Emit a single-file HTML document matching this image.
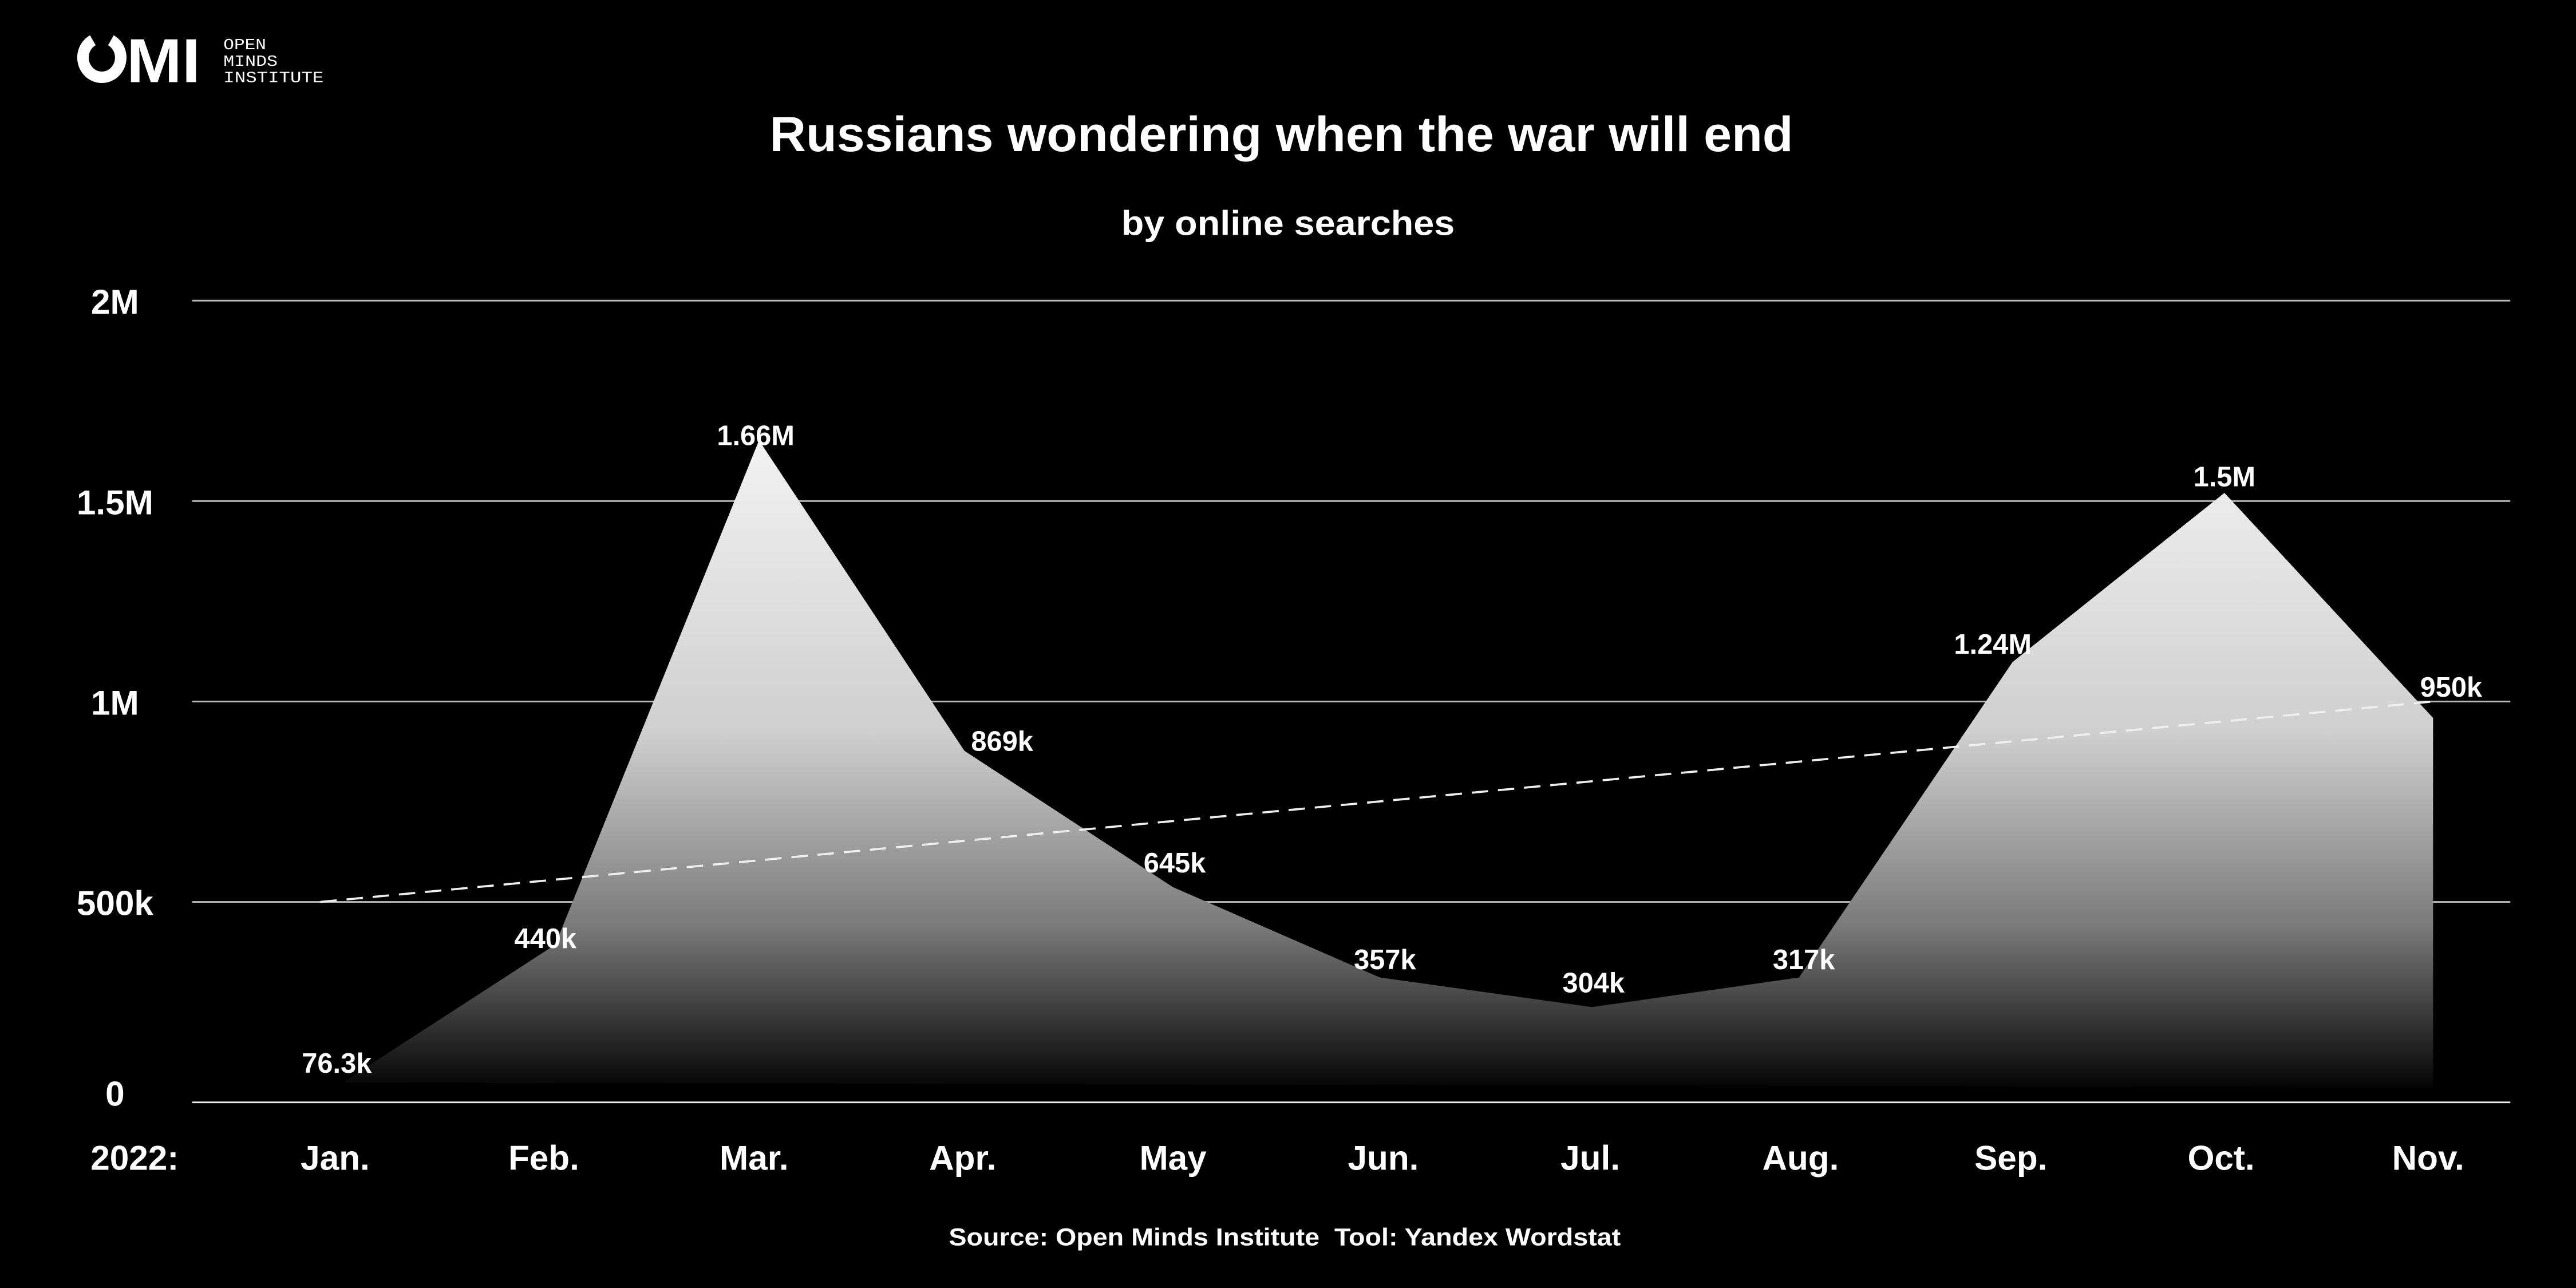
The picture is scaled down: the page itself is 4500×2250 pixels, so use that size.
<!DOCTYPE html>
<html><head><meta charset="utf-8"><style>
html,body{margin:0;padding:0;background:#000;}
svg{display:block;}
text{font-family:"Liberation Sans",sans-serif;fill:#fff;font-weight:bold;}
</style></head><body>
<svg width="4500" height="2250" viewBox="0 0 1568 784" xmlns="http://www.w3.org/2000/svg">
<defs>
<linearGradient id="g" x1="0" y1="268" x2="0" y2="662" gradientUnits="userSpaceOnUse">
<stop offset="0" stop-color="#f2f2f2"/>
<stop offset="0.45" stop-color="#cfcfcf"/>
<stop offset="0.75" stop-color="#7a7a7a"/>
<stop offset="1" stop-color="#050505"/>
</linearGradient>
</defs>
<rect width="1568" height="784" fill="#000"/>
<!-- logo -->
<path d="M67.5,24.5 A11.5,12 0 1 1 56.5,24.5" fill="none" stroke="#fff" stroke-width="7"/>
<text x="77" y="50" font-size="38" textLength="45" lengthAdjust="spacingAndGlyphs">MI</text>
<g style="font-family:'Liberation Mono',monospace;font-weight:normal" font-size="9.5">
<text x="136" y="30" style="font-family:'Liberation Mono',monospace;font-weight:normal" textLength="26" lengthAdjust="spacingAndGlyphs">OPEN</text>
<text x="136" y="40" style="font-family:'Liberation Mono',monospace;font-weight:normal" textLength="33" lengthAdjust="spacingAndGlyphs">MINDS</text>
<text x="136" y="50" style="font-family:'Liberation Mono',monospace;font-weight:normal" textLength="61" lengthAdjust="spacingAndGlyphs">INSTITUTE</text>
</g>
<!-- titles -->
<text x="780" y="92" font-size="30" text-anchor="middle" textLength="623" lengthAdjust="spacingAndGlyphs">Russians wondering when the war will end</text>
<text x="784" y="143" font-size="21" text-anchor="middle" textLength="203" lengthAdjust="spacingAndGlyphs">by online searches</text>
<!-- grid -->
<g stroke="#bbb" stroke-width="1">
<line x1="117" y1="183" x2="1528" y2="183"/>
<line x1="117" y1="305" x2="1528" y2="305"/>
<line x1="117" y1="427" x2="1528" y2="427"/>
<line x1="117" y1="549" x2="1528" y2="549"/>
<line x1="117" y1="671" x2="1528" y2="671" stroke="#eee"/>
</g>
<g font-size="21" text-anchor="middle">
<text x="70" y="191">2M</text>
<text x="70" y="313">1.5M</text>
<text x="70" y="435">1M</text>
<text x="70" y="557">500k</text>
<text x="70" y="673">0</text>
</g>
<!-- area -->
<path d="M210,658 L338,575 L462,268 L587,457 L714,540 L840,595 L969,613 L1095,595 L1225,403 L1354,300 L1481,437 L1481,662 L210,659 Z" fill="url(#g)"/>
<line x1="195" y1="549" x2="1481" y2="427" stroke="#eee" stroke-width="1.3" stroke-dasharray="10,6"/>
<g font-size="17" text-anchor="middle">
<text x="205" y="653">76.3k</text>
<text x="332" y="577">440k</text>
<text x="460" y="271">1.66M</text>
<text x="610" y="457">869k</text>
<text x="715" y="531">645k</text>
<text x="843" y="590">357k</text>
<text x="970" y="604">304k</text>
<text x="1098" y="590">317k</text>
<text x="1213" y="398">1.24M</text>
<text x="1354" y="296">1.5M</text>
<text x="1492" y="424">950k</text>
</g>
<g font-size="21" text-anchor="middle">
<text x="82" y="712">2022:</text>
<text x="204" y="712">Jan.</text>
<text x="331" y="712">Feb.</text>
<text x="459" y="712">Mar.</text>
<text x="586" y="712">Apr.</text>
<text x="714" y="712">May</text>
<text x="842" y="712">Jun.</text>
<text x="968" y="712">Jul.</text>
<text x="1096" y="712">Aug.</text>
<text x="1224" y="712">Sep.</text>
<text x="1352" y="712">Oct.</text>
<text x="1478" y="712">Nov.</text>
</g>
<text x="782" y="758" font-size="15" text-anchor="middle" xml:space="preserve" textLength="409" lengthAdjust="spacingAndGlyphs">Source: Open Minds Institute  Tool: Yandex Wordstat</text>
</svg>
</body></html>
